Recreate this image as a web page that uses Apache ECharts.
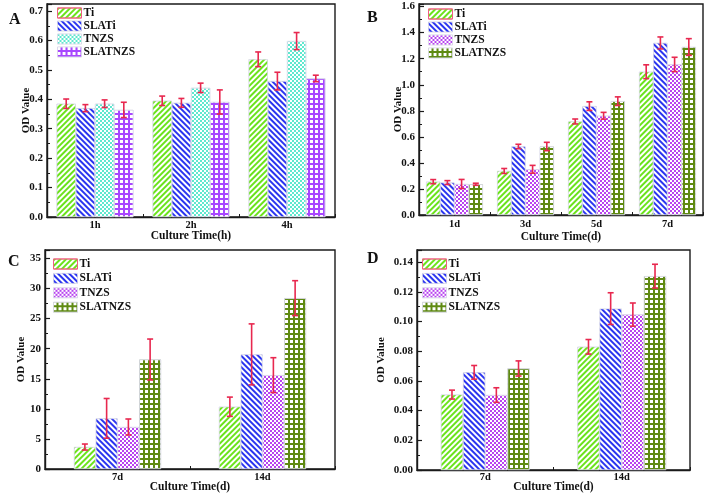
<!DOCTYPE html>
<html><head><meta charset="utf-8">
<script src="https://cdn.jsdelivr.net/npm/echarts@6/dist/echarts.min.js"></script>
<style>html,body{margin:0;padding:0;background:#fff}#c{width:709px;height:497px}</style>
</head><body><div id="c"></div>
<script>
// ---------- data ----------
const seriesNames = ['Ti', 'SLATi', 'TNZS', 'SLATNZS'];
const catsA = ['1h', '2h', '4h'];
const catsB = ['1d', '3d', '5d', '7d'];
const catsC = ['7d', '14d'];
const catsD = ['7d', '14d'];

const A_Ti = [0.385, 0.395, 0.536];
const A_SLATi = [0.370, 0.388, 0.462];
const A_TNZS = [0.385, 0.439, 0.598];
const A_SLATNZS = [0.364, 0.391, 0.471];
const A_errTi = [0.016, 0.016, 0.025];
const A_errSLATi = [0.012, 0.015, 0.030];
const A_errTNZS = [0.013, 0.016, 0.029];
const A_errSLATNZS = [0.026, 0.041, 0.011];

const B_Ti = [0.256, 0.338, 0.718, 1.100];
const B_SLATi = [0.249, 0.526, 0.836, 1.321];
const B_TNZS = [0.238, 0.351, 0.762, 1.156];
const B_SLATNZS = [0.236, 0.526, 0.874, 1.290];
const B_errTi = [0.016, 0.019, 0.019, 0.053];
const B_errSLATi = [0.015, 0.017, 0.033, 0.046];
const B_errTNZS = [0.035, 0.030, 0.026, 0.055];
const B_errSLATNZS = [0.008, 0.032, 0.033, 0.064];

const C_Ti = [3.65, 10.35];
const C_SLATi = [8.42, 19.05];
const C_TNZS = [6.98, 15.6];
const C_SLATNZS = [18.2, 28.4];
const C_errTi = [0.5, 1.6];
const C_errSLATi = [3.3, 5.07];
const C_errTNZS = [1.33, 2.9];
const C_errSLATNZS = [3.4, 2.9];

const D_Ti = [0.0508, 0.0830];
const D_SLATi = [0.0658, 0.1087];
const D_TNZS = [0.0505, 0.1047];
const D_SLATNZS = [0.0684, 0.1306];
const D_errTi = [0.0030, 0.0049];
const D_errSLATi = [0.0046, 0.0107];
const D_errTNZS = [0.0049, 0.0078];
const D_errSLATNZS = [0.0051, 0.0080];

const yTicksA = {min: 0, max: 0.724, interval: 0.1, dec: 1};
const yTicksB = {min: 0, max: 1.62, interval: 0.2, dec: 1};
const yTicksC = {min: 0, max: 36.4, interval: 5, dec: 0};
const yTicksD = {min: 0, max: 0.1482, interval: 0.02, dec: 2};

// ---------- styles ----------
const FONT = 'Liberation Serif';
const GREEN = '#6be31c', BLUE = '#2a35f0', AQUA = '#5fe8cf', PURPLE_A = '#a847ff', PURPLE = '#b844f0', OLIVE = '#5f8a12';
const ERR = '#e8284f';

const stripe = (col, rot) => ({symbol: 'rect', color: col, dashArrayX: [1, 0], dashArrayY: [1.6, 1.6], rotation: rot});
const dots = () => ({symbol: 'rect', color: '#ffffff', dashArrayX: [[1.6, 1.6], [0, 1.6, 1.6, 0]], dashArrayY: [1.6, 0]});
const gridPat = () => ({symbol: 'rect', color: '#ffffff', dashArrayX: [2.2, 1.3], dashArrayY: [2.2, 1.3]});

const styleSetA = [
  {color: '#ffffff', decal: stripe(GREEN, -Math.PI / 4)},
  {color: '#ffffff', decal: stripe(BLUE, Math.PI / 4)},
  {color: AQUA, decal: dots()},
  {color: PURPLE_A, decal: gridPat()}
];
const styleSetB = [
  {color: '#ffffff', decal: stripe(GREEN, -Math.PI / 4)},
  {color: '#ffffff', decal: stripe(BLUE, Math.PI / 4)},
  {color: PURPLE, decal: dots()},
  {color: OLIVE, decal: gridPat()}
];

const panels = [
  {key: 'A', cats: catsA, vals: [A_Ti, A_SLATi, A_TNZS, A_SLATNZS], errs: [A_errTi, A_errSLATi, A_errTNZS, A_errSLATNZS], y: yTicksA, styles: styleSetA,
   grid: {left: 47, top: 4, width: 288, height: 213}, gap: 0.2, xname: 'Culture Time(h)', yGap: 15.5, xGap: 13, lblM: 2.5,
   legend: {left: 57, top: 7, gap: 1}, letter: {left: 4, top: 7}},
  {key: 'B', cats: catsB, vals: [B_Ti, B_SLATi, B_TNZS, B_SLATNZS], errs: [B_errTi, B_errSLATi, B_errTNZS, B_errSLATNZS], y: yTicksB, styles: styleSetB,
   grid: {left: 419, top: 4, width: 284, height: 211}, gap: 0.2, xname: 'Culture Time(d)', yGap: 15.5, xGap: 16, lblM: 4,
   legend: {left: 428, top: 8, gap: 1}, letter: {left: 362, top: 5}},
  {key: 'C', cats: catsC, vals: [C_Ti, C_SLATi, C_TNZS, C_SLATNZS], errs: [C_errTi, C_errSLATi, C_errTNZS, C_errSLATNZS], y: yTicksC, styles: styleSetB,
   grid: {left: 45, top: 250, width: 290, height: 219}, gap: 0.4, xname: 'Culture Time(d)', yGap: 18.5, xGap: 12.5, lblM: 3,
   legend: {left: 53, top: 258, gap: 2.4}, letter: {left: 3, top: 249}},
  {key: 'D', cats: catsD, vals: [D_Ti, D_SLATi, D_TNZS, D_SLATNZS], errs: [D_errTi, D_errSLATi, D_errTNZS, D_errSLATNZS], y: yTicksD, styles: styleSetB,
   grid: {left: 417, top: 250, width: 273, height: 220}, gap: 0.35, xname: 'Culture Time(d)', yGap: 30.5, xGap: 11.5, lblM: 2,
   legend: {left: 422, top: 258, gap: 2.4}, letter: {left: 362, top: 246}}
];

const option = {
  animation: false,
  backgroundColor: '#ffffff',
  textStyle: {fontFamily: FONT},
  grid: [], xAxis: [], yAxis: [], series: [], legend: [], title: []
};

panels.forEach((p, gi) => {
  option.grid.push(Object.assign({show: true, borderColor: '#1a1a1a', borderWidth: 1.4, backgroundColor: 'transparent'}, p.grid));
  option.xAxis.push({
    type: 'category', gridIndex: gi, data: p.cats,
    name: p.xname, nameLocation: 'middle', nameGap: p.xGap, nameMoveOverlap: false,
    nameTextStyle: {fontFamily: FONT, fontWeight: 'bold', fontSize: 11.5, color: '#111'},
    axisLine: {lineStyle: {color: '#1a1a1a', width: 1.4}},
    axisTick: {show: true, inside: true, length: 3, alignWithLabel: false, lineStyle: {color: '#1a1a1a'}},
    axisLabel: {fontFamily: FONT, fontWeight: 'bold', fontSize: 10.5, color: '#111', margin: p.lblM},
    splitLine: {show: false}
  });
  const y = p.y;
  option.yAxis.push({
    type: 'value', gridIndex: gi, min: y.min, max: y.max, interval: y.interval,
    name: 'OD Value', nameLocation: 'middle', nameGap: p.yGap, nameMoveOverlap: false,
    nameTextStyle: {fontFamily: FONT, fontWeight: 'bold', fontSize: 11, color: '#111'},
    axisLine: {show: true, lineStyle: {color: '#1a1a1a', width: 1.4}},
    axisTick: {show: true, inside: true, length: 5, lineStyle: {color: '#1a1a1a', width: 1.2}},
    minorTick: {show: true, splitNumber: 2, length: 3, lineStyle: {color: '#1a1a1a', width: 1}},
    axisLabel: {fontFamily: FONT, fontWeight: 'bold', fontSize: 11, color: '#111', margin: 4, showMaxLabel: false,
      formatter: v => v.toFixed(y.dec)},
    splitLine: {show: false}
  });
  const names = seriesNames.map(n => p.key + ':' + n);
  names.forEach((nm, si) => {
    option.series.push({
      type: 'bar', name: nm, xAxisIndex: gi, yAxisIndex: gi, data: p.vals[si],
      barGap: '0%', barCategoryGap: (p.gap * 100) + '%',
      itemStyle: Object.assign({borderColor: '#d8d8e8', borderWidth: 0.6}, p.styles[si]),
      emphasis: {disabled: true}
    });
  });
  const errData = [];
  p.vals.forEach((arr, si) => arr.forEach((v, ci) => {
    errData.push([ci, si, v - p.errs[si][ci], v + p.errs[si][ci]]);
  }));
  const gap = p.gap;
  option.series.push({
    type: 'custom', xAxisIndex: gi, yAxisIndex: gi, data: errData, z: 10, silent: true,
    encode: {x: 0, y: [2, 3]},
    renderItem: (params, api) => {
      const ci = api.value(0), si = api.value(1);
      const lo = api.coord([ci, api.value(2)]);
      const hi = api.coord([ci, api.value(3)]);
      const band = api.size([1, 0])[0];
      const gw = band * (1 - gap);
      const bw = gw / 4;
      const x = lo[0] - gw / 2 + bw * (si + 0.5);
      const cap = 3;
      const st = {stroke: ERR, lineWidth: 1.6};
      return {type: 'group', children: [
        {type: 'line', shape: {x1: x, y1: lo[1], x2: x, y2: hi[1]}, style: st},
        {type: 'line', shape: {x1: x - cap, y1: lo[1], x2: x + cap, y2: lo[1]}, style: st},
        {type: 'line', shape: {x1: x - cap, y1: hi[1], x2: x + cap, y2: hi[1]}, style: st}
      ]};
    }
  });
  option.legend.push({
    orient: 'vertical', left: p.legend.left, top: p.legend.top, padding: 0,
    itemWidth: 24, itemHeight: 10, itemGap: p.legend.gap,
    icon: 'rect',
    data: names.map((nm, si) => ({name: nm, itemStyle: {borderColor: si === 0 ? '#f06080' : '#d8d8e8', borderWidth: si === 0 ? 1 : 0.6}})),
    formatter: n => n.split(':')[1],
    textStyle: {fontFamily: FONT, fontWeight: 'bold', fontSize: 11.5, color: '#111', lineHeight: 11, padding: [0, 0, 0, -3]},
    selectedMode: false
  });
  option.title.push({text: p.key, left: p.letter.left, top: p.letter.top,
    textStyle: {fontFamily: FONT, fontWeight: 'bold', fontSize: 16, color: '#111'}});
});

const chart = echarts.init(document.getElementById('c'), null, {renderer: 'canvas'});
chart.setOption(option);
</script>
</body></html>
